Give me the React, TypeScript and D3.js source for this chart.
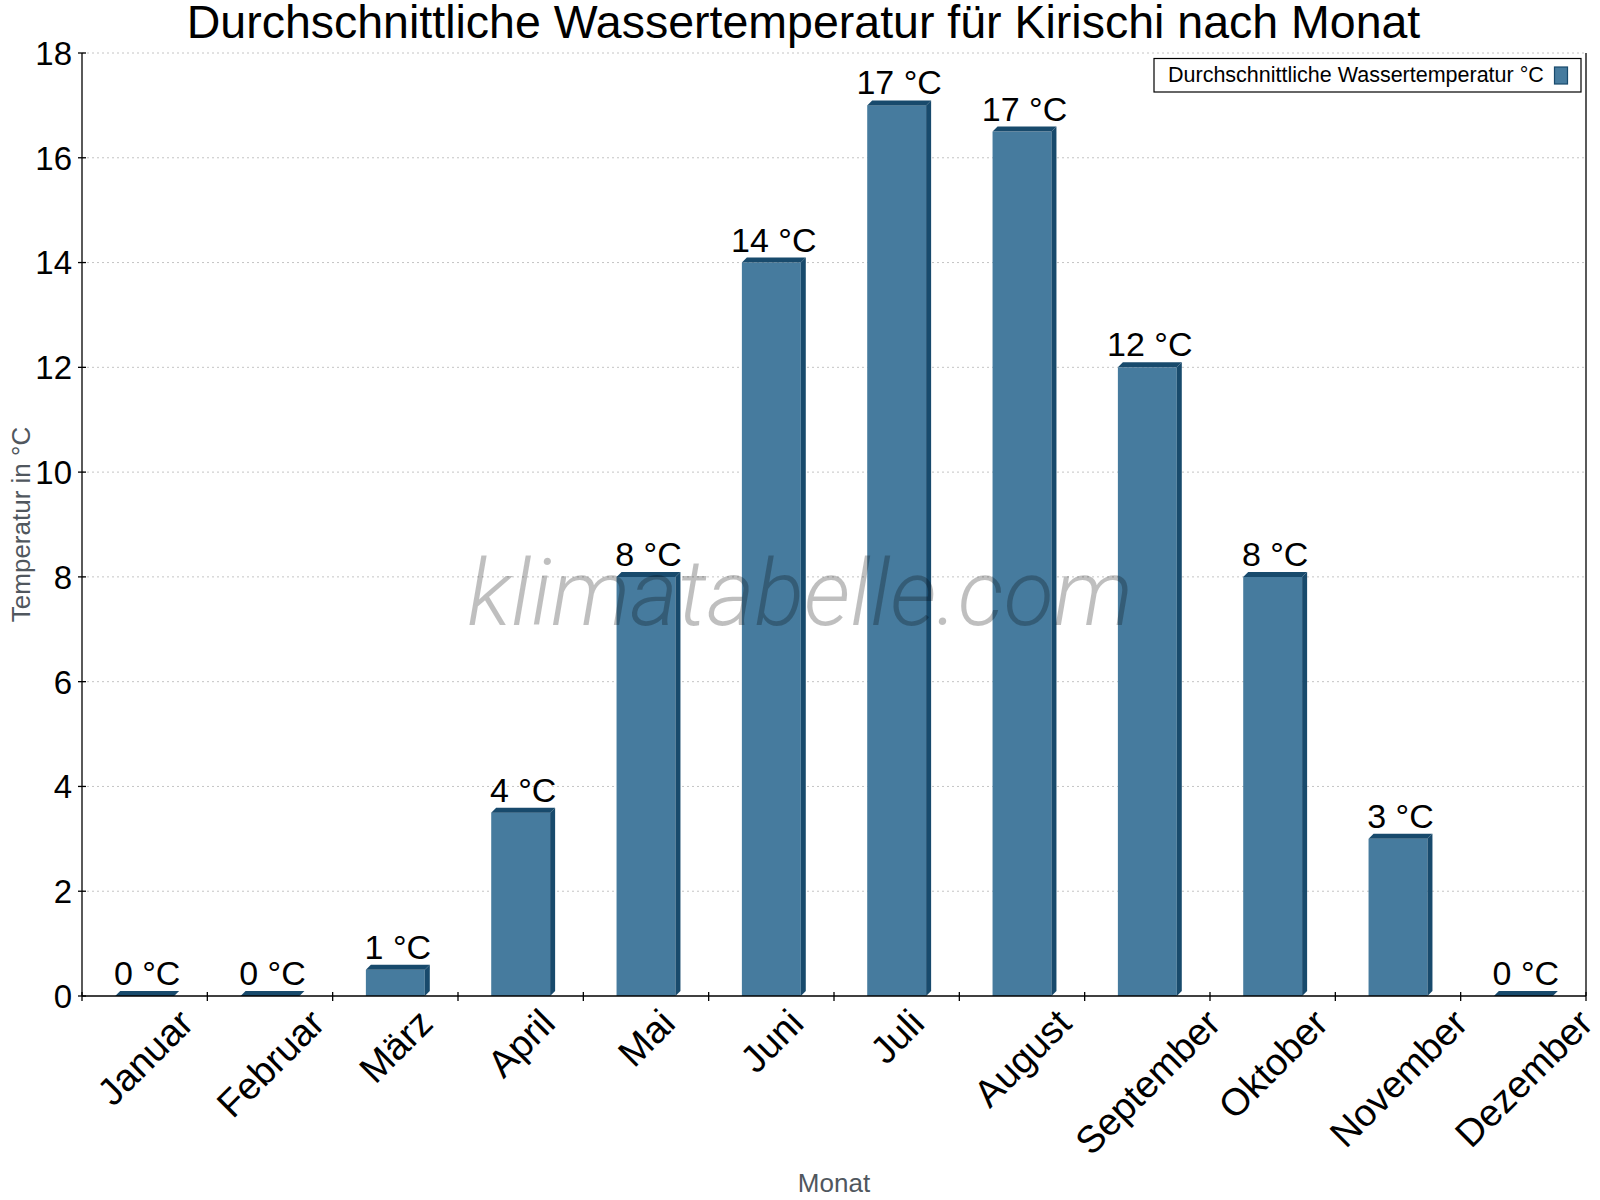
import React, { useEffect, useRef } from "react";
import * as d3 from "d3";

// Monatsdaten
const months = [
  "Januar",
  "Februar",
  "März",
  "April",
  "Mai",
  "Juni",
  "Juli",
  "August",
  "September",
  "Oktober",
  "November",
  "Dezember",
];
const waterTemps = [0, 0, 0.5, 3.5, 8, 14, 17, 16.5, 12, 8, 3, 0];
const yTicks = [0, 2, 4, 6, 8, 10, 12, 14, 16, 18];

const TITLE = "Durchschnittliche Wassertemperatur für Kirischi nach Monat";
const LEGEND_LABEL = "Durchschnittliche Wassertemperatur °C";

const W = 1600;
const H = 1200;
const FONT = "'Liberation Sans', Arial, sans-serif";
const FRONT = "#467b9e";
const DARK = "#184a6c";
const DEPTH = 5;

const App: React.FC = () => {
  const svgRef = useRef<SVGSVGElement>(null);

  useEffect(() => {
    document.body.style.margin = "0";
    if (!svgRef.current) return;
    const svg = d3.select(svgRef.current);
    svg.selectAll("*").remove();

    const left = 82;
    const right = 1586;
    const top = 53;
    const bottom = 996;

    const x = d3.scaleBand<string>().domain(months).range([left, right]);
    const y = d3.scaleLinear().domain([0, 18]).range([bottom, top]);

    svg.append("rect").attr("width", W).attr("height", H).attr("fill", "#fff");

    // gridlines
    svg
      .append("g")
      .selectAll("line")
      .data(yTicks.filter((t) => t > 0))
      .enter()
      .append("line")
      .attr("x1", left)
      .attr("x2", right)
      .attr("y1", (d) => y(d))
      .attr("y2", (d) => y(d))
      .attr("stroke", "#c4c4c4")
      .attr("stroke-width", 1)
      .attr("stroke-dasharray", "2,3");

    // bars (pseudo 3D)
    const bw = x.bandwidth() * 0.47;
    const bars = svg.append("g");
    months.forEach((m, i) => {
      const v = waterTemps[i];
      const cx = (x(m) as number) + x.bandwidth() / 2;
      const x0 = cx - bw / 2;
      const x1 = cx + bw / 2;
      const yt = y(v);
      const y0 = y(0);
      if (y0 - yt > 0) {
        bars
          .append("rect")
          .attr("x", x0)
          .attr("y", yt)
          .attr("width", bw)
          .attr("height", y0 - yt)
          .attr("fill", FRONT);
        bars
          .append("polygon")
          .attr(
            "points",
            [
              [x1, yt],
              [x1 + DEPTH, yt - DEPTH],
              [x1 + DEPTH, y0 - DEPTH],
              [x1, y0],
            ]
              .map((p) => p.join(","))
              .join(" ")
          )
          .attr("fill", DARK);
      }
      bars
        .append("polygon")
        .attr(
          "points",
          [
            [x0, yt],
            [x0 + DEPTH, yt - DEPTH],
            [x1 + DEPTH, yt - DEPTH],
            [x1, yt],
          ]
            .map((p) => p.join(","))
            .join(" ")
        )
        .attr("fill", DARK);

      bars
        .append("text")
        .attr("x", cx + DEPTH / 2)
        .attr("y", yt - DEPTH - 6)
        .attr("text-anchor", "middle")
        .attr("font-family", FONT)
        .attr("font-size", 34)
        .attr("fill", "#000")
        .text(`${Math.round(v)} °C`);
    });

    // watermark
    svg
      .append("text")
      .attr("x", 800)
      .attr("y", 625)
      .attr("text-anchor", "middle")
      .attr("font-family", "Roboto, 'Open Sans', sans-serif")
      .attr("font-weight", 300)
      .attr("font-style", "italic")
      .attr("font-size", 92)
      .attr("fill", "rgba(0,0,0,0.25)")
      .text("klimatabelle.com");

    // spines
    const axisG = svg.append("g").attr("stroke", "#000").attr("stroke-width", 1.3);
    axisG.append("line").attr("x1", left).attr("x2", left).attr("y1", top).attr("y2", bottom);
    axisG.append("line").attr("x1", right).attr("x2", right).attr("y1", top).attr("y2", bottom);
    axisG.append("line").attr("x1", left).attr("x2", right).attr("y1", bottom).attr("y2", bottom);

    // y ticks
    yTicks.forEach((t) => {
      axisG.append("line").attr("x1", left - 4).attr("x2", left + 4).attr("y1", y(t)).attr("y2", y(t));
      svg
        .append("text")
        .attr("x", left - 10)
        .attr("y", y(t))
        .attr("dy", "0.36em")
        .attr("text-anchor", "end")
        .attr("font-family", FONT)
        .attr("font-size", 33)
        .text(String(t));
    });

    // x ticks at band edges
    const edges = months.map((m) => x(m) as number).concat([right]);
    edges.forEach((e) => {
      axisG.append("line").attr("x1", e).attr("x2", e).attr("y1", bottom - 4).attr("y2", bottom + 5);
    });

    // x labels rotated, bbox centred below band
    const fs = 38;
    months.forEach((m) => {
      const cx = (x(m) as number) + x.bandwidth() / 2;
      const t = svg
        .append("text")
        .attr("text-anchor", "middle")
        .attr("dy", "0.36em")
        .attr("font-family", FONT)
        .attr("font-size", fs)
        .text(m);
      const w = (t.node() as SVGTextElement).getComputedTextLength();
      const half = ((w + fs * 0.74) * Math.SQRT1_2) / 2;
      t.attr("transform", `translate(${cx},${bottom + 10 + half}) rotate(-45)`);
    });

    // axis titles
    svg
      .append("text")
      .attr("transform", `translate(30,${(top + bottom) / 2}) rotate(-90)`)
      .attr("text-anchor", "middle")
      .attr("font-family", FONT)
      .attr("font-size", 26)
      .attr("fill", "#50575e")
      .text("Temperatur in °C");
    svg
      .append("text")
      .attr("x", (left + right) / 2)
      .attr("y", 1192)
      .attr("text-anchor", "middle")
      .attr("font-family", FONT)
      .attr("font-size", 26)
      .attr("fill", "#50575e")
      .text("Monat");

    // title
    svg
      .append("text")
      .attr("x", 803.5)
      .attr("y", 38)
      .attr("text-anchor", "middle")
      .attr("font-family", FONT)
      .attr("font-size", 46.5)
      .text(TITLE);

    // legend
    const lg = svg.append("g");
    lg.append("rect")
      .attr("x", 1154)
      .attr("y", 58.5)
      .attr("width", 427)
      .attr("height", 33.5)
      .attr("fill", "#fff")
      .attr("stroke", "#000")
      .attr("stroke-width", 1.2);
    lg.append("text")
      .attr("x", 1168)
      .attr("y", 81.5)
      .attr("font-family", FONT)
      .attr("font-size", 21.5)
      .text(LEGEND_LABEL);
    lg.append("rect")
      .attr("x", 1554.5)
      .attr("y", 67)
      .attr("width", 13)
      .attr("height", 17)
      .attr("fill", FRONT)
      .attr("stroke", DARK)
      .attr("stroke-width", 1.2);
  }, []);

  return <svg ref={svgRef} width={W} height={H} style={{ display: "block" }} />;
};

export default App;
